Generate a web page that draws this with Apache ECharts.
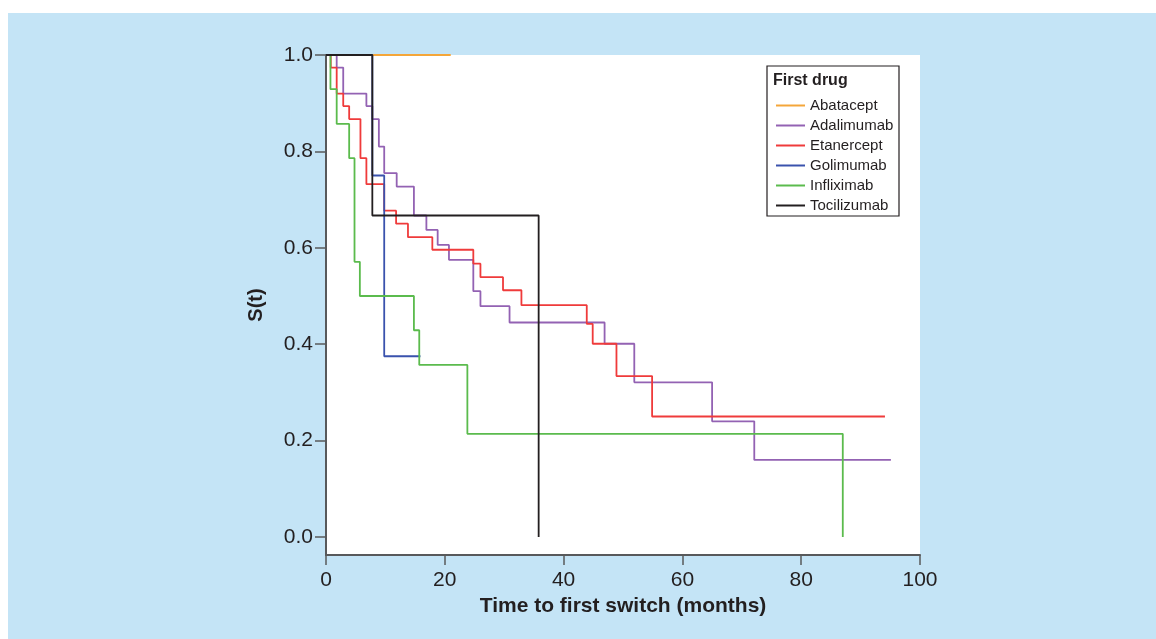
<!DOCTYPE html>
<html>
<head>
<meta charset="utf-8">
<script src="https://cdn.jsdelivr.net/npm/echarts@6/dist/echarts.min.js"></script>
<style>
  html, body { margin: 0; padding: 0; background: #ffffff; }
  #panel { position: absolute; left: 8px; top: 13px; width: 1148px; height: 626px; background: #c4e4f6; }
  #chart { position: absolute; left: 0; top: 0; width: 1156px; height: 639px; }
</style>
</head>
<body>
<div id="panel"></div>
<div id="chart"></div>
<script>
// Kaplan-Meier step curves (time in months, S(t))
var drugs = ['Abatacept', 'Adalimumab', 'Etanercept', 'Golimumab', 'Infliximab', 'Tocilizumab']
var colors = ['#f4a63a', '#9362b3', '#ef3b3b', '#3a52ad', '#5bbb4d', '#231f20']

var abataceptT = [0, 21]
var abataceptS = [1, 1]

var adalimumabT = [0, 1.8, 2.9, 6.8, 7.8, 8.9, 9.8, 11.9, 14.8, 16.9, 18.8, 20.7, 24.8, 26.0, 30.9, 46.9, 51.9, 65.0, 72.1, 95.1]
var adalimumabS = [1, 0.974, 0.92, 0.894, 0.867, 0.81, 0.755, 0.727, 0.667, 0.637, 0.606, 0.575, 0.51, 0.479, 0.445, 0.401, 0.321, 0.24, 0.16, 0.16]

var etanerceptT = [0, 0.8, 1.8, 2.9, 3.9, 5.8, 6.8, 9.8, 11.8, 13.8, 17.9, 24.8, 26.0, 29.8, 32.9, 43.9, 44.9, 48.9, 54.9, 94.1]
var etanerceptS = [1, 0.974, 0.92, 0.894, 0.867, 0.786, 0.732, 0.677, 0.65, 0.622, 0.596, 0.567, 0.539, 0.512, 0.481, 0.442, 0.401, 0.334, 0.25, 0.25]

var golimumabT = [0, 7.8, 9.8, 15.9]
var golimumabS = [1, 0.75, 0.375, 0.375]

var infliximabT = [0, 0.75, 1.8, 3.9, 4.8, 5.7, 14.8, 15.7, 23.8, 87.0]
var infliximabS = [1, 0.929, 0.857, 0.786, 0.571, 0.5, 0.429, 0.357, 0.214, 0]

var tocilizumabT = [0, 7.8, 35.8]
var tocilizumabS = [1, 0.667, 0]

var xTicks = [0, 20, 40, 60, 80, 100]
var yTicks = [0, 0.2, 0.4, 0.6, 0.8, 1.0]

var curves = [
  [abataceptT, abataceptS],
  [adalimumabT, adalimumabS],
  [etanerceptT, etanerceptS],
  [golimumabT, golimumabS],
  [infliximabT, infliximabS],
  [tocilizumabT, tocilizumabS]
]

function pairs(t, s) {
  return t.map(function (v, i) { return [v, s[i]] })
}

var font = '"Liberation Sans", Arial, Helvetica, sans-serif'
var ink = '#231f20'

var chart = echarts.init(document.getElementById('chart'), null, { renderer: 'canvas' })

chart.setOption({
  animation: false,
  backgroundColor: 'transparent',
  textStyle: { fontFamily: font },
  grid: {
    left: 326,
    top: 55,
    right: 236,
    bottom: 84,
    show: true,
    backgroundColor: '#ffffff',
    borderWidth: 0
  },
  xAxis: {
    type: 'value',
    min: xTicks[0],
    max: xTicks[xTicks.length - 1],
    interval: 20,
    name: 'Time to first switch (months)',
    nameLocation: 'middle',
    nameGap: 40,
    nameTextStyle: { color: ink, fontSize: 21, fontWeight: 'bold', fontFamily: font },
    axisLine: { onZero: false, lineStyle: { color: '#58595b', width: 2 } },
    axisTick: { length: 10, lineStyle: { color: '#58595b', width: 1.5 } },
    axisLabel: { color: ink, fontSize: 21, margin: 15, fontFamily: font },
    splitLine: { show: false }
  },
  yAxis: {
    type: 'value',
    min: -0.0373,
    max: 1,
    name: 'S(t)',
    nameLocation: 'middle',
    nameGap: 60,
    nameRotate: 90,
    nameTextStyle: { color: ink, fontSize: 20, fontWeight: 'bold', fontFamily: font },
    axisLine: { show: true, lineStyle: { color: '#58595b', width: 2 } },
    axisTick: { show: true, length: 11, customValues: yTicks, lineStyle: { color: '#58595b', width: 1.5 } },
    axisLabel: {
      color: ink, fontSize: 21, margin: 13, fontFamily: font,
      customValues: yTicks,
      formatter: function (v) { return v.toFixed(1) }
    },
    splitLine: { show: false }
  },
  legend: {
    data: drugs,
    orient: 'vertical',
    left: 771,
    top: 93,
    icon: 'rect',
    itemWidth: 29,
    itemHeight: 2,
    itemGap: 5,
    textStyle: { color: ink, fontSize: 15, fontFamily: font }
  },
  graphic: [
    {
      type: 'rect',
      shape: { x: 767, y: 66, width: 132, height: 150 },
      style: { fill: '#ffffff', stroke: ink, lineWidth: 1.2 },
      z: 1
    },
    {
      type: 'text',
      x: 773,
      y: 81,
      style: { text: 'First drug', fill: ink, font: 'bold 16px ' + font, textVerticalAlign: 'middle' },
      z: 5
    }
  ],
  series: curves.map(function (c, i) {
    return {
      name: drugs[i],
      type: 'line',
      step: 'end',
      showSymbol: false,
      clip: false,
      silent: true,
      color: colors[i],
      lineStyle: { color: colors[i], width: 1.8 },
      data: pairs(c[0], c[1])
    }
  })
})
</script>
</body>
</html>
